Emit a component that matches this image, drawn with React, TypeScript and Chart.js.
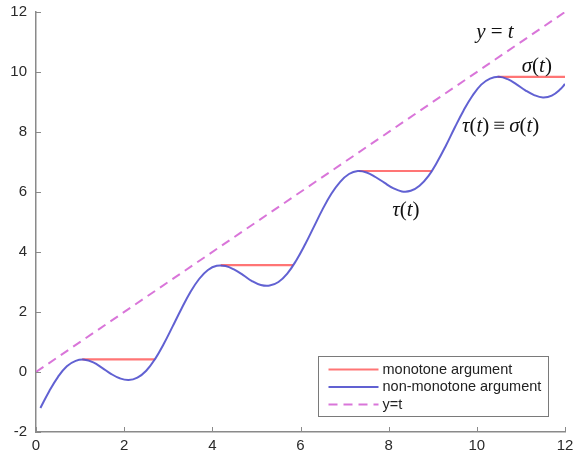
import { useEffect, useRef } from "react";
import { Chart, registerables } from "chart.js";

Chart.register(...registerables);

// ---- data ----
const tValues = [
  0.1, 0.3, 0.5, 0.7, 0.9, 1.1, 1.3, 1.5, 1.7, 1.9,
  2.1, 2.3, 2.5, 2.7, 2.9, 3.1, 3.3, 3.5, 3.7, 3.9,
  4.1, 4.3, 4.5, 4.7, 4.9, 5.1, 5.3, 5.5, 5.7, 5.9,
  6.1, 6.3, 6.5, 6.7, 6.9, 7.1, 7.3, 7.5, 7.7, 7.9,
  8.1, 8.3, 8.5, 8.7, 8.9, 9.1, 9.3, 9.5, 9.7, 9.9,
  10.1, 10.3, 10.5, 10.7, 10.9, 11.1, 11.3, 11.5, 11.7, 11.9, 12.0,
];
const nonMonotoneValues = [
  -1.2, -0.64, -0.16, 0.19, 0.37, 0.41, 0.32, 0.14, -0.06, -0.21,
  -0.27, -0.19, 0.04, 0.43, 0.94, 1.52, 2.11, 2.66, 3.1, 3.4,
  3.54, 3.53, 3.41, 3.23, 3.03, 2.9, 2.88, 3.0, 3.28, 3.71,
  4.24, 4.83, 5.42, 5.94, 6.34, 6.6, 6.7, 6.65, 6.5, 6.31,
  6.13, 6.02, 6.04, 6.21, 6.53, 7.0, 7.55, 8.15, 8.72, 9.21,
  9.58, 9.78, 9.84, 9.76, 9.59, 9.39, 9.23, 9.15, 9.21, 9.43, 9.6,
];
const monotoneStartT = [1.05, 4.19, 7.33, 10.47];
const monotoneEndT = [2.69, 5.83, 8.98, 12.0];
const monotoneLevels = [0.42, 3.56, 6.7, 9.84];
const diagonalT = [0, 12];
const diagonalY = [0, 12];
const xTickValues = [0, 2, 4, 6, 8, 10, 12];
const yTickValues = [-2, 0, 2, 4, 6, 8, 10, 12];
const legendLabels = ["monotone argument", "non-monotone argument", "y=t"];

// annotation labels: [text, italic?] pieces
const annotationLabels = [
  [["y", true], [" = ", false], ["t", true]],
  [["σ", true], ["(", false], ["t", true], [")", false]],
  [["τ", true], ["(", false], ["t", true], [")", false], ["≡", false], ["σ", true], ["(", false], ["t", true], [")", false]],
  [["τ", true], ["(", false], ["t", true], [")", false]],
] as [string, boolean][][];
const annotationX = [10.41, 11.36, 10.54, 8.39];
const annotationY = [11.33, 10.17, 8.17, 5.37];

const RED = "rgba(255,110,110,0.95)";
const BLUE = "rgba(80,80,205,0.9)";
const MAGENTA = "rgba(215,110,215,0.95)";
const AXIS = "#8a8a8a";

export default function App() {
  const ref = useRef<HTMLCanvasElement | null>(null);

  useEffect(() => {
    if (!ref.current) return;

    const monotoneData: { x: number; y: number | null }[] = [];
    monotoneStartT.forEach((s, i) => {
      monotoneData.push({ x: s, y: monotoneLevels[i] });
      monotoneData.push({ x: monotoneEndT[i], y: monotoneLevels[i] });
      if (i < monotoneStartT.length - 1) {
        monotoneData.push({ x: (monotoneEndT[i] + monotoneStartT[i + 1]) / 2, y: null });
      }
    });
    const blueData = tValues.map((t, i) => ({ x: t, y: nonMonotoneValues[i] }));
    const diagData = diagonalT.map((t, i) => ({ x: t, y: diagonalY[i] }));

    const innerTicks = {
      id: "innerTicks",
      afterDraw(chart: any) {
        const ctx = chart.ctx;
        const xs = chart.scales.x;
        const ys = chart.scales.y;
        const { left, bottom } = chart.chartArea;
        ctx.save();
        ctx.strokeStyle = AXIS;
        ctx.lineWidth = 1;
        xTickValues.forEach((v) => {
          const px = Math.round(xs.getPixelForValue(v)) + 0.5;
          ctx.beginPath();
          ctx.moveTo(px, bottom);
          ctx.lineTo(px, bottom - 5);
          ctx.stroke();
        });
        yTickValues.forEach((v) => {
          const py = Math.round(ys.getPixelForValue(v)) + 0.5;
          ctx.beginPath();
          ctx.moveTo(left, py);
          ctx.lineTo(left + 5, py);
          ctx.stroke();
        });
        ctx.restore();
      },
    };

    const annotations = {
      id: "annotations",
      afterDraw(chart: any) {
        const ctx = chart.ctx;
        const xs = chart.scales.x;
        const ys = chart.scales.y;
        ctx.save();
        ctx.fillStyle = "#111";
        ctx.textBaseline = "middle";
        ctx.textAlign = "left";
        annotationLabels.forEach((parts, i) => {
          const fonts = parts.map(([, it]) =>
            `${it ? "italic " : ""}21px "Liberation Serif", "DejaVu Serif", serif`
          );
          let total = 0;
          const widths = parts.map(([txt], j) => {
            ctx.font = fonts[j];
            const w = ctx.measureText(txt).width + (txt === "≡" ? 8 : 0);
            total += w;
            return w;
          });
          let cx = xs.getPixelForValue(annotationX[i]) - total / 2;
          const cy = ys.getPixelForValue(annotationY[i]);
          parts.forEach(([txt], j) => {
            ctx.font = fonts[j];
            ctx.fillText(txt, cx + (txt === "≡" ? 4 : 0), cy);
            cx += widths[j];
          });
        });
        ctx.restore();
      },
    };

    const boxLegend = {
      id: "boxLegend",
      afterDraw(chart: any) {
        const ctx = chart.ctx;
        const ds = chart.data.datasets;
        const bx = 318.5, by = 356.5, bw = 230, bh = 60;
        ctx.save();
        ctx.fillStyle = "#fff";
        ctx.fillRect(bx, by, bw, bh);
        ctx.strokeStyle = "#7a7a7a";
        ctx.lineWidth = 1;
        ctx.strokeRect(bx, by, bw, bh);
        ctx.font = '14.5px "Liberation Sans", Arial, sans-serif';
        ctx.textBaseline = "middle";
        ctx.fillStyle = "#222";
        legendLabels.forEach((label, i) => {
          const y = by + 13 + i * 17.5;
          const d = ds[i];
          ctx.strokeStyle = d.borderColor;
          ctx.lineWidth = 2;
          ctx.setLineDash(d.borderDash || []);
          ctx.beginPath();
          ctx.moveTo(bx + 10, y);
          ctx.lineTo(bx + 60, y);
          ctx.stroke();
          ctx.setLineDash([]);
          ctx.fillText(label, bx + 64, y);
        });
        ctx.restore();
      },
    };

    const chart = new Chart(ref.current, {
      type: "line",
      data: {
        datasets: [
          {
            label: legendLabels[0],
            data: monotoneData,
            borderColor: RED,
            borderWidth: 2.2,
            pointRadius: 0,
            spanGaps: false,
            order: 2,
          },
          {
            label: legendLabels[1],
            data: blueData,
            borderColor: BLUE,
            borderWidth: 2,
            pointRadius: 0,
            tension: 0.4,
            order: 1,
          },
          {
            label: legendLabels[2],
            data: diagData,
            borderColor: MAGENTA,
            borderWidth: 2,
            borderDash: [9, 6],
            pointRadius: 0,
            order: 3,
          },
        ] as any,
      },
      options: {
        animation: false,
        responsive: true,
        maintainAspectRatio: false,
        layout: { padding: { top: 12, right: 12, left: 0, bottom: 0 } },
        plugins: {
          legend: { display: false },
          tooltip: { enabled: false },
        },
        scales: {
          x: {
            type: "linear",
            min: 0,
            max: 12,
            afterBuildTicks: (s: any) => {
              s.ticks = xTickValues.map((v) => ({ value: v }));
            },
            afterFit: (s: any) => {
              s.height = 26;
              s.paddingLeft = 0;
              s.paddingRight = 0;
            },
            ticks: {
              color: "#2a2a2a",
              padding: 5,
              font: { family: '"Liberation Sans", Arial, sans-serif', size: 15 },
            },
            grid: { display: true, drawOnChartArea: false, drawTicks: false },
            border: { display: true, color: AXIS, width: 1.5 },
          },
          y: {
            type: "linear",
            min: -2,
            max: 12,
            afterBuildTicks: (s: any) => {
              s.ticks = yTickValues.map((v) => ({ value: v }));
            },
            afterFit: (s: any) => {
              s.width = 36;
              s.paddingTop = 0;
              s.paddingBottom = 0;
            },
            ticks: {
              color: "#2a2a2a",
              padding: 9,
              font: { family: '"Liberation Sans", Arial, sans-serif', size: 15 },
            },
            grid: { display: true, drawOnChartArea: false, drawTicks: false },
            border: { display: true, color: AXIS, width: 1.5 },
          },
        },
      },
      plugins: [innerTicks, annotations, boxLegend],
    });

    return () => chart.destroy();
  }, []);

  return (
    <div style={{ position: "fixed", left: 0, top: 0, width: 577, height: 458, background: "#fff" }}>
      <canvas ref={ref} />
    </div>
  );
}
